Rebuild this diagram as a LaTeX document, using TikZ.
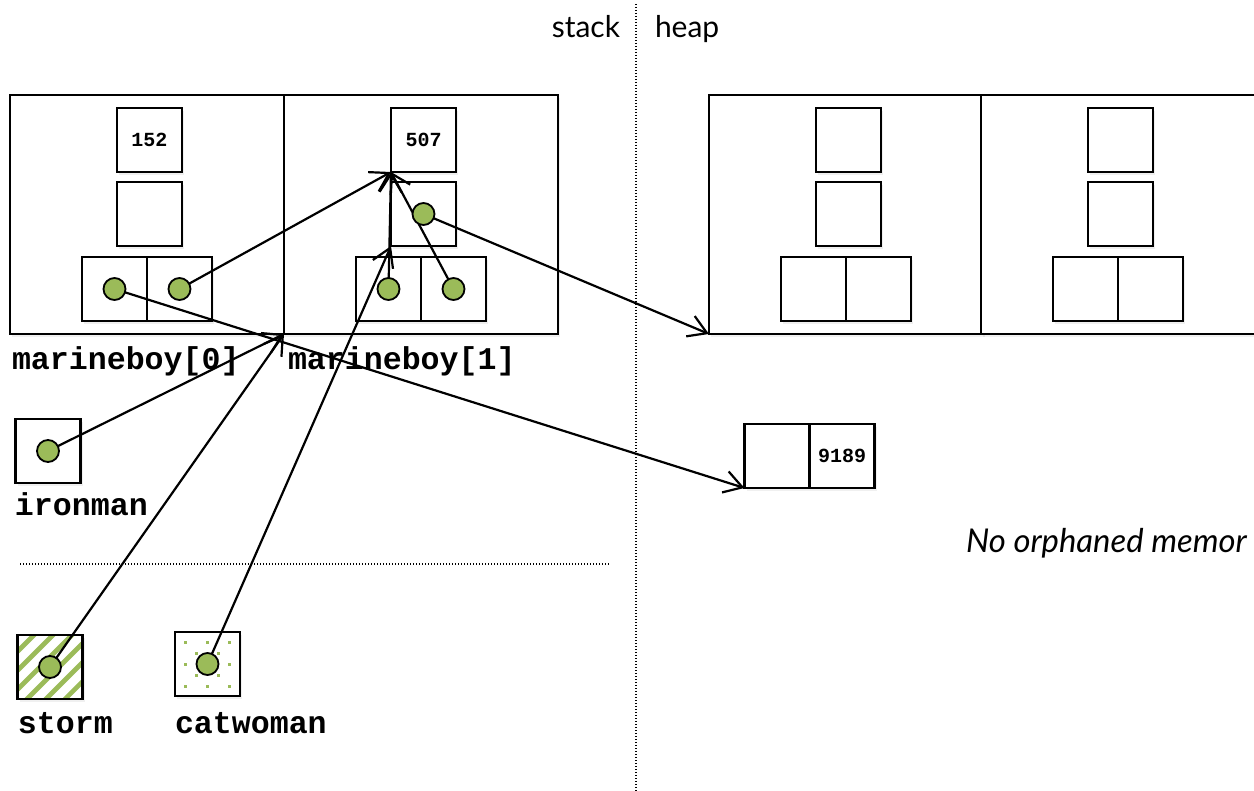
\documentclass[tikz,border=0pt]{standalone}
\usepackage{fontspec}
\setmainfont{Lato}
\setmonofont{Liberation Mono}
\usetikzlibrary{arrows.meta,positioning,shadows}
\definecolor{ptrgreen}{RGB}{155,187,89}

\begin{document}
\begin{tikzpicture}[x=0.5pt,y=-0.5pt,
			every node/.style = {inner sep=0pt, outer sep=0pt},
			frame/.style = {draw, line width=1.4pt, fill=white,
				minimum width=137pt, minimum height=119.5pt,
				drop shadow={opacity=0.12, shadow xshift=1.2pt, shadow yshift=-1.6pt}},
			cell/.style = {draw, line width=1.2pt, fill=white,
				minimum width=32.5pt, minimum height=32pt,
				font=\ttfamily\bfseries\fontsize{10}{12}\selectfont,
				drop shadow={opacity=0.12, shadow xshift=1pt, shadow yshift=-1.4pt}},
			ptr/.style = {circle, draw, line width=0.9pt, fill=ptrgreen, minimum size=11pt},
			varname/.style = {anchor=base west, font=\ttfamily\bfseries\fontsize{15.8}{18}\selectfont},
			ref/.style = {-{Straight Barb[length=9pt,width=11pt]}, line width=1.1pt},
			note/.style = {font=\fontsize{15}{18}\selectfont}]
			\clip (0,0) rectangle (1254,791);
			% stack / heap
			\node[note, anchor=base east] (stack) at (620,38) {stack};
			\node[note, anchor=base west] (heap) at (655,38) {heap};
			\draw[line width=1pt, dash pattern=on 0.5pt off 1pt] (636,4) -- (636,791);
			\draw[line width=1pt, dash pattern=on 0.5pt off 1pt] (20,564) -- (610,564);
			% structs
			\foreach \name/\left/\val in {mbA/10/152, mbB/284/507, hpA/709/{}, hpB/981/{}} {
				\node[frame] (\name) at (\left+137,214.5) {};
				\node[cell] (\name-top) at (\left+139.5,140) {\val};
				\node[cell, below=5pt of \name-top] (\name-mid) {};
				\node[cell, anchor=north east] (\name-left) at (\left+137,257) {};
				\node[cell, right=0pt of \name-left] (\name-right) {};
			}
			\node[varname] (mbA-lbl) at (12,370) {marineboy[0]};
			\node[varname] (mbB-lbl) at (288,370) {marineboy[1]};
			% int pair on the heap
			\node[cell] (hpC-left) at (777,456) {};
			\node[cell, right=0pt of hpC-left] (hpC-right) {9189};
			% plain pointers
			\node[cell] (ironman) at (48,451) {};
			\node[varname] (ironman-lbl) at (15,515) {ironman};
			\node[cell] (storm) at (50,667) {};
			\begin{scope}
				\clip (storm.south west) rectangle (storm.north east);
				\foreach \c in {650,669,688,707,726,745,764,783}
					\draw[ptrgreen, line width=2.3pt] (\c-720,720) -- (\c-600,600);
			\end{scope}
			\draw[line width=1.2pt] (storm.south west) rectangle (storm.north east);
			\node[varname] (storm-lbl) at (18,733) {storm};
			\node[cell] (catwoman) at (207.5,664) {};
			\foreach \i in {-22,0,22}
				\foreach \j in {-22,0,22}
					\fill[ptrgreen] (207.5+\i-1.5,664+\j-1.5) rectangle +(3,3);
			\foreach \i in {-11,11}
				\foreach \j in {-11,11}
					\fill[ptrgreen] (207.5+\i-1.5,664+\j-1.5) rectangle +(3,3);
			\node[varname] (catwoman-lbl) at (175,733) {catwoman};
			% connectors
			\draw[ref] (mbA-right.center) -- (mbB-top.south west);
			\draw[ref] (mbB-left.center) -- (mbB-top.south west);
			\draw[ref] (mbB-right.center) -- (mbB-top.south west);
			\draw[ref] (mbB-mid.center) -- (hpA.south west);
			\draw[ref] (mbA-left.center) -- (hpC-left.south west);
			\draw[ref] (ironman.center) -- (mbA.south east);
			\draw[ref] (storm.center) -- (mbA.south east);
			\draw[ref] (catwoman.center) -- (mbB-mid.south west);
			% pointer dots
			\foreach \cellname in {mbA-left, mbA-right, mbB-left, mbB-right, mbB-mid, ironman, storm, catwoman}
				\node[ptr] (\cellname-dot) at (\cellname) {};
			\node[note, anchor=base west, font=\itshape\fontsize{16.4}{20}\selectfont] (orphan) at (966,552) {No orphaned memor};
\end{tikzpicture}
\end{document}
